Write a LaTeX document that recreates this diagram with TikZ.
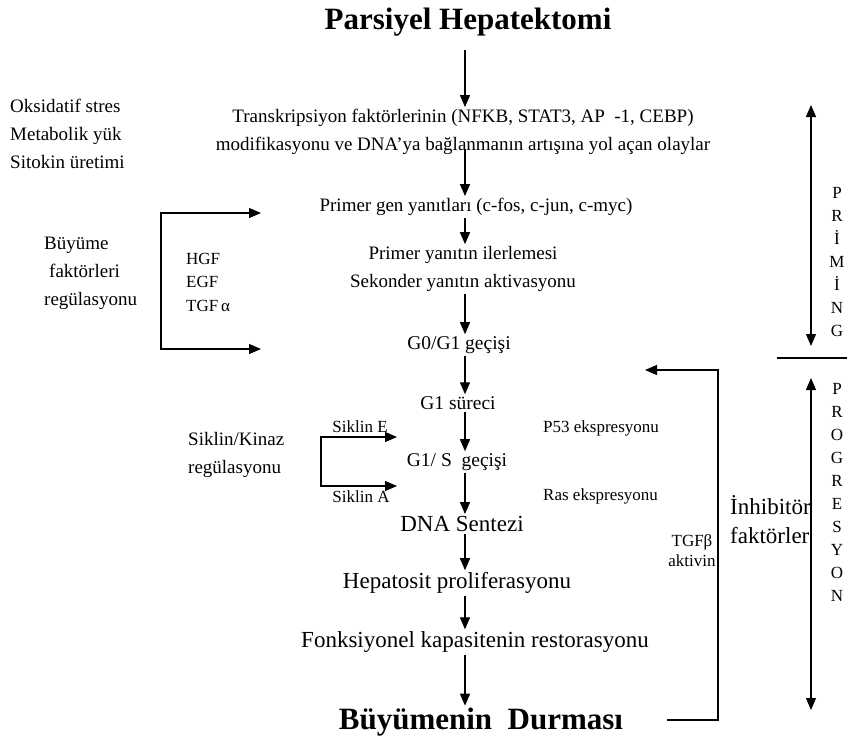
\documentclass[tikz,border=0pt]{standalone}
\usepackage{fontspec}
\setmainfont{Liberation Serif}
\usepackage{tikz}
\usetikzlibrary{positioning,arrows.meta}
\tikzset{
  titlebox/.style={font=\bfseries\fontsize{31}{35}\selectfont,inner sep=2pt},
  mainstep/.style={font=\fontsize{19}{28}\selectfont,align=center,inner sep=2pt},
  gstep/.style={font=\fontsize{19.5}{24}\selectfont,inner sep=2pt},
  bigstep/.style={font=\fontsize{23}{28}\selectfont,inner sep=2pt},
  sidetext/.style={font=\fontsize{19}{28}\selectfont,align=left,inner sep=0pt},
  smalltext/.style={font=\fontsize{17}{20}\selectfont,inner sep=0pt},
  letters/.style={font=\fontsize{17}{23}\selectfont,align=center,inner sep=0pt},
  flow/.style={-{Triangle[length=12pt,width=10pt]},line width=1.2pt,draw=black},
  twoway/.style={{Triangle[length=12pt,width=10pt]}-{Triangle[length=12pt,width=10pt]},line width=1.2pt,draw=black},
}

\begin{document}
\begin{tikzpicture}[x=1pt,y=-1pt]
  \useasboundingbox (0,0) rectangle (847,745);
  \coordinate (spine) at (465,0);
  % main chain
  \node[titlebox] (start) at (468,22) {Parsiyel Hepatektomi};
  \node[mainstep] (tf) at (463,132) {Transkripsiyon faktörlerinin (NFKB, STAT3, AP\ \ -1, CEBP)\\
    modifikasyonu ve DNA’ya bağlanmanın artışına yol açan olaylar};
  \node[mainstep] (pg) at (476,207) {Primer gen yanıtları (c-fos, c-jun, c-myc)};
  \node[mainstep] (sek) at (463,269) {Primer yanıtın ilerlemesi\\Sekonder yanıtın aktivasyonu};
  \node[gstep] (g0) at (459,345) {G0/G1 geçişi};
  \node[gstep] (g1) at (458,403) {G1 süreci};
  \node[gstep] (g1s) at (457,462) {G1/ S\ \ geçişi};
  \node[bigstep] (dna) at (462,524) {DNA Sentezi};
  \node[bigstep] (hep) at (457,583) {Hepatosit proliferasyonu};
  \node[bigstep] (fonk) at (475,642) {Fonksiyonel kapasitenin restorasyonu};
  \node[titlebox] (stop) at (481,722) {Büyümenin\ \ Durması};
  \draw[flow] ([yshift=-12pt]start.south -| spine) -- (tf.north -| spine);
  \draw[flow] ([yshift=8pt]tf.south -| spine) -- (pg.north -| spine);
  \draw[flow] (pg.south -| spine) -- (sek.north -| spine);
  \draw[flow] (sek.south -| spine) -- (g0.north -| spine);
  \draw[flow] (g0.south -| spine) -- (g1.north -| spine);
  \draw[flow] (g1.south -| spine) -- (g1s.north -| spine);
  \draw[flow] (g1s.south -| spine) -- (dna.north -| spine);
  \draw[flow] (dna.south -| spine) -- (hep.north -| spine);
  \draw[flow] (hep.south -| spine) -- (fonk.north -| spine);
  \draw[flow] (fonk.south -| spine) -- (stop.north -| spine);
  % left side
  \node[sidetext,anchor=west] (stres) at (10,134) {Oksidatif stres\\Metabolik yük\\Sitokin üretimi};
  \node[sidetext,anchor=west] (gfreg) at (44,273) {Büyüme\\\hspace*{5pt}faktörleri\\regülasyonu};
  \node[smalltext,align=left,anchor=west,font=\fontsize{17}{23.5}\selectfont] (gf) at (186,282) {HGF\\EGF\\TGF\,α};
  \coordinate (gfCorner) at (161,213);
  \coordinate (gfTop) at (261,213);
  \coordinate (gfBot) at (261,349);
  \draw[twoway] (gfTop) -- (gfCorner) |- (gfBot);
  \node[sidetext,anchor=west] (skreg) at (188,455) {Siklin/Kinaz\\regülasyonu};
  \coordinate (skCorner) at (321,437);
  \coordinate (skTop) at (397,437);
  \coordinate (skBot) at (397,486);
  \draw[twoway] (skTop) -- (skCorner) |- (skBot);
  \node[smalltext] (sikE) at (360,427) {Siklin E};
  \node[smalltext] (sikA) at (361,497) {Siklin A};
  % right side
  \node[smalltext,anchor=west] (p53) at (543,428) {P53 ekspresyonu};
  \node[smalltext,anchor=west] (ras) at (543,496) {Ras ekspresyonu};
  \node[smalltext,align=center] (tgfb) at (692,551) {TGFβ\\aktivin};
  \coordinate (fbStart) at (667,720);
  \coordinate (fbTop) at (718,370);
  \coordinate (fbEnd) at (645,370);
  \draw[flow] (fbStart) -| (fbTop) -- (fbEnd);
  \node[sidetext,anchor=west,font=\fontsize{23}{29}\selectfont] (inhib) at (730,520) {İnhibitör\\faktörler};
  \coordinate (sepL) at (777,358);
  \coordinate (sepR) at (847,358);
  \draw[line width=1.2pt] (sepL) -- (sepR);
  \coordinate (prTop) at (811,105);
  \coordinate (prBot) at (811,346);
  \draw[twoway] (prTop) -- (prBot);
  \coordinate (pgTop) at (811,378);
  \coordinate (pgBot) at (811,710);
  \draw[twoway] (pgTop) -- (pgBot);
  \node[letters] (priming) at (837,262) {P\\R\\İ\\M\\İ\\N\\G};
  \node[letters] (progres) at (837,492) {P\\R\\O\\G\\R\\E\\S\\Y\\O\\N};
\end{tikzpicture}
\end{document}
